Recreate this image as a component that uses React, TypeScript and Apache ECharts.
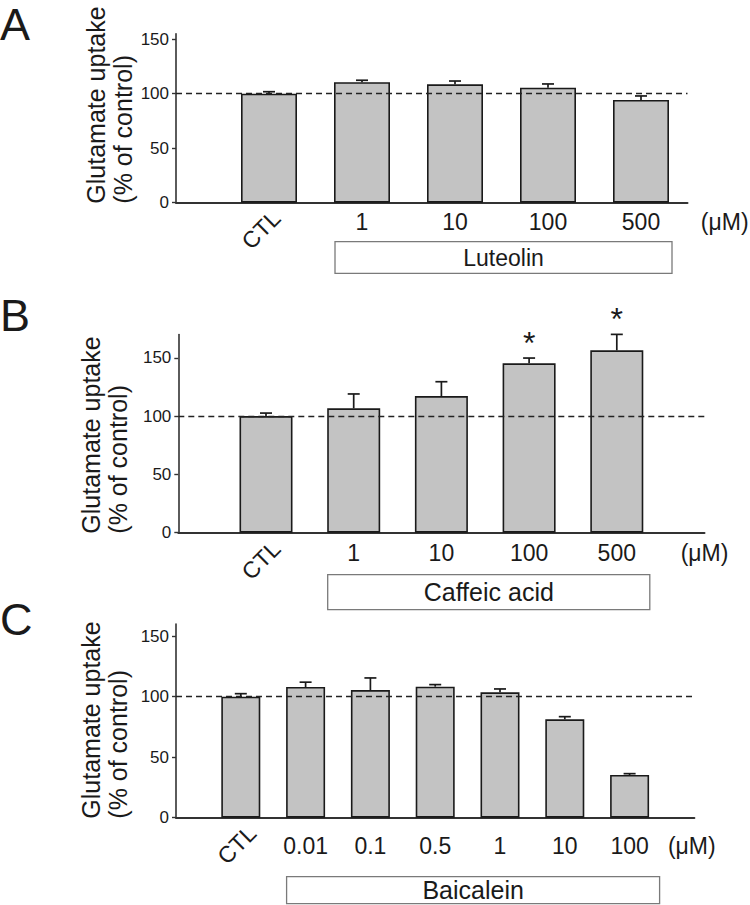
import React, { useEffect, useRef } from 'react';
import * as echarts from 'echarts';

// ---------- data ----------
const panelLetters = ['A', 'B', 'C'];
const drugNames = ['Luteolin', 'Caffeic acid', 'Baicalein'];

const luteolinDoses = ['CTL', '1', '10', '100', '500'];
const luteolinMean = [100, 110.5, 108.6, 105.5, 94.2];
const luteolinSem = [1.8, 1.8, 3.0, 3.4, 3.7];
const luteolinSig = ['', '', '', '', ''];

const caffeicDoses = ['CTL', '1', '10', '100', '500'];
const caffeicMean = [100, 106.7, 117.2, 145.3, 156.4];
const caffeicSem = [2.6, 12.3, 12.3, 4.5, 13.7];
const caffeicSig = ['', '', '', '*', '*'];

const baicaleinDoses = ['CTL', '0.01', '0.1', '0.5', '1', '10', '100'];
const baicaleinMean = [100, 108, 105.5, 108.3, 103.6, 81.3, 35.3];
const baicaleinSem = [2.5, 4.0, 10.0, 1.7, 2.8, 2.2, 1.1];
const baicaleinSig = ['', '', '', '', '', '', ''];

const yTicks = [0, 50, 100, 150];
const yMax = [155, 170, 160];
const controlLevel = 100;
const unitLabel = '(μM)';
const yAxisTitle = 'Glutamate uptake\n(% of control)';

// ---------- layout (positions / styles only) ----------
const FONT = "'Liberation Sans', Arial, Helvetica, sans-serif";
const INK = '#1a1a1a';

const layouts = [
  { left: 176, top: 33.7, width: 511.5, height: 169, xMax: 5.5, barWidth: 56, labelDy: 19, ctlDx: -8, ctlDy: 27, boxTop: 39, boxH: 31.6, boxL: -27, boxR: 31, drugFont: 23, unitDx: 0.9, letterY: 2, nameX: 136 },
  { left: 178.3, top: 334.5, width: 526.2, height: 198.2, xMax: 6, barWidth: 53, labelDy: 20, ctlDx: -5, ctlDy: 27.5, boxTop: 42, boxH: 35, boxL: -26, boxR: 33, drugFont: 25, unitDx: 1.0, letterY: 293, nameX: 131 },
  { left: 176, top: 624.1, width: 518.4, height: 193.6, xMax: 8, barWidth: 39, labelDy: 28, ctlDx: -4, ctlDy: 27, boxTop: 59, boxH: 27, boxL: -19, boxR: 30, drugFont: 25, unitDx: 0.96, letterY: 597, nameX: 131 },
];

const panels = [
  { doses: luteolinDoses, mean: luteolinMean, sem: luteolinSem, sig: luteolinSig },
  { doses: caffeicDoses, mean: caffeicMean, sem: caffeicSem, sig: caffeicSig },
  { doses: baicaleinDoses, mean: baicaleinMean, sem: baicaleinSem, sig: baicaleinSig },
];

function buildOption() {
  const grid: any[] = [];
  const xAxis: any[] = [];
  const yAxis: any[] = [];
  const series: any[] = [];
  const graphic: any[] = [];

  panels.forEach((p, k) => {
    const L = layouts[k];
    grid.push({ left: L.left, top: L.top, width: L.width, height: L.height, containLabel: false, outerBoundsMode: 'none' });
    xAxis.push({
      type: 'value', gridIndex: k, min: 0, max: L.xMax,
      axisLine: { show: true, onZero: true, lineStyle: { color: '#333', width: 2 } },
      axisTick: { show: false }, axisLabel: { show: false }, splitLine: { show: false },
    });
    yAxis.push({
      type: 'value', gridIndex: k, min: 0, max: yMax[k], interval: 50,
      axisLine: { show: true, lineStyle: { color: '#333', width: 1.6 } },
      axisTick: { show: true, length: 4, customValues: yTicks, lineStyle: { color: '#333', width: 1.4 } },
      axisLabel: { show: true, customValues: yTicks, fontSize: 17, fontFamily: FONT, color: INK, margin: 7 },
      splitLine: { show: false },
    });

    // bars
    series.push({
      type: 'bar', xAxisIndex: k, yAxisIndex: k, barWidth: L.barWidth,
      data: p.mean.map((v, i) => [i + 1, v]),
      itemStyle: { color: '#c3c3c3', borderColor: INK, borderWidth: 1.6 },
      markLine: {
        silent: true, symbol: ['none', 'none'], label: { show: false },
        lineStyle: { type: [6, 4], color: '#222', width: 1.3 },
        data: [{ yAxis: controlLevel }],
      },
      z: 2,
    });

    // error bars + significance
    series.push({
      type: 'custom', xAxisIndex: k, yAxisIndex: k, clip: false, z: 4,
      data: p.mean.map((v, i) => [i + 1, v, p.sem[i]]),
      renderItem: (params: any, api: any) => {
        const x = api.value(0), m = api.value(1), e = api.value(2);
        const b = api.coord([x, m]);
        const t = api.coord([x, m + e]);
        const half = 6;
        const st = { stroke: INK, lineWidth: 1.7 };
        const children: any[] = [
          { type: 'line', shape: { x1: b[0], y1: b[1], x2: t[0], y2: t[1] }, style: st },
          { type: 'line', shape: { x1: t[0] - half, y1: t[1], x2: t[0] + half, y2: t[1] }, style: st },
        ];
        const s = p.sig[params.dataIndex];
        if (s) {
          children.push({ type: 'text', x: t[0], y: t[1] + 1, style: { text: s, font: `32px ${FONT}`, align: 'center', verticalAlign: 'bottom', fill: INK } });
        }
        return { type: 'group', children };
      },
    });

    // x labels
    series.push({
      type: 'custom', xAxisIndex: k, yAxisIndex: k, clip: false, z: 4, silent: true,
      data: p.doses.map((d, i) => [i + 1, 0]),
      renderItem: (params: any, api: any) => {
        const c = api.coord([api.value(0), 0]);
        const text = p.doses[params.dataIndex];
        if (params.dataIndex === 0) {
          return { type: 'text', x: c[0] + L.ctlDx, y: c[1] + L.ctlDy, rotation: Math.PI / 4, style: { text, font: `23px ${FONT}`, align: 'center', verticalAlign: 'middle', fill: INK } };
        }
        return { type: 'text', x: c[0], y: c[1] + L.labelDy, style: { text, font: `23px ${FONT}`, align: 'center', verticalAlign: 'middle', fill: INK } };
      },
    });

    // drug box + unit label
    const n = p.doses.length;
    series.push({
      type: 'custom', xAxisIndex: k, yAxisIndex: k, clip: false, z: 4, silent: true,
      data: [[2, n, 0]],
      renderItem: (params: any, api: any) => {
        const a = api.coord([api.value(0), 0]);
        const b = api.coord([api.value(1), 0]);
        const u = api.coord([api.value(1) + L.unitDx, 0]);
        const x0 = a[0] + L.boxL, x1 = b[0] + L.boxR;
        const y0 = a[1] + L.boxTop;
        return {
          type: 'group', children: [
            { type: 'rect', shape: { x: x0, y: y0, width: x1 - x0, height: L.boxH }, style: { fill: '#fff', stroke: '#7a7a7a', lineWidth: 1.3 } },
            { type: 'text', x: (x0 + x1) / 2, y: y0 + L.boxH / 2, style: { text: drugNames[k], font: `${L.drugFont}px ${FONT}`, align: 'center', verticalAlign: 'middle', fill: INK } },
            { type: 'text', x: u[0], y: u[1] + L.labelDy, style: { text: unitLabel, font: `23px ${FONT}`, align: 'center', verticalAlign: 'middle', fill: INK } },
          ],
        };
      },
    });

    // panel letter
    graphic.push({ type: 'text', left: 0, top: L.letterY, style: { text: panelLetters[k], font: `45px ${FONT}`, fill: INK } });
    // y-axis title
    graphic.push({
      type: 'text', x: L.nameX, y: L.top + L.height + 1, rotation: Math.PI / 2,
      style: { text: yAxisTitle, font: `25px ${FONT}`, lineHeight: 27, align: 'left', verticalAlign: 'bottom', fill: INK },
    });
  });

  return { animation: false, backgroundColor: '#fff', grid, xAxis, yAxis, series, graphic };
}

export default function App() {
  const ref = useRef<HTMLDivElement>(null);
  useEffect(() => {
    document.body.style.margin = '0';
    if (!ref.current) return;
    const chart = echarts.init(ref.current, undefined, { renderer: 'svg' });
    chart.setOption(buildOption() as any);
    return () => chart.dispose();
  }, []);
  return <div ref={ref} style={{ width: 750, height: 905 }} />;
}
